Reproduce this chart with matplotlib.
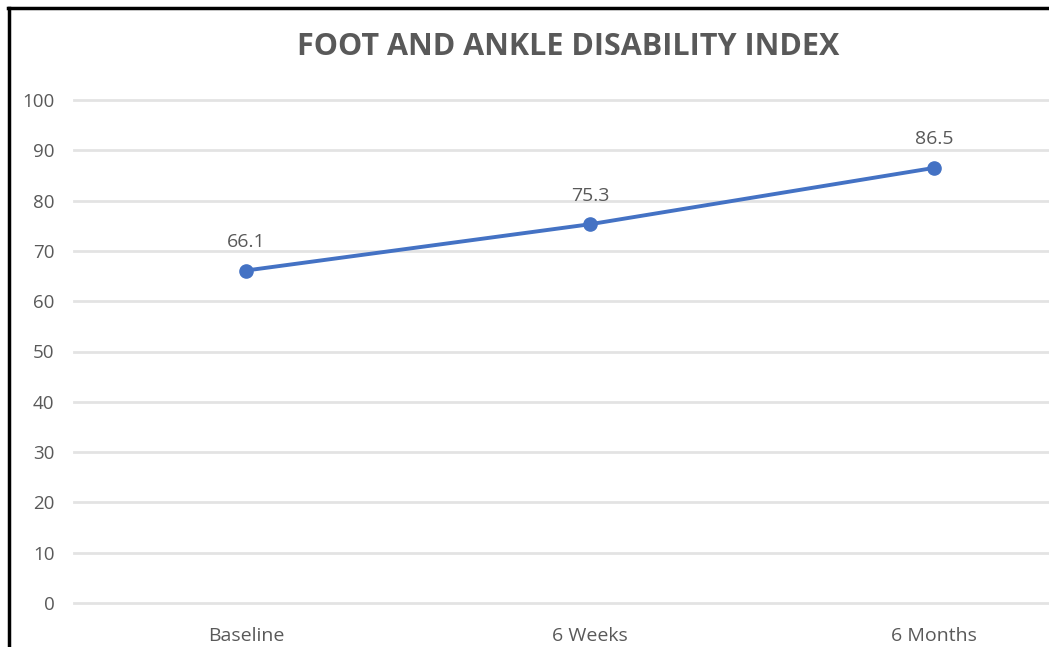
import matplotlib.pyplot as plt
from matplotlib.lines import Line2D

# data
categories = ['Baseline', '6 Weeks', '6 Months']
scores = [66.1, 75.3, 86.5]
yticks = [0, 10, 20, 30, 40, 50, 60, 70, 80, 90, 100]

plt.rcParams['font.family'] = ['Open Sans', 'DejaVu Sans']
text_grey = '#595959'
line_blue = '#4472C4'

W, H = 1049, 647
fig = plt.figure(figsize=(W / 100, H / 100), dpi=100)
fig.patch.set_facecolor('white')

# plot area extends past the right edge (chart is cropped in the reference)
ax = fig.add_axes([74 / W, 44 / H, 1032 / W, 503 / H])
x = list(range(len(categories)))
ax.plot(x, scores, color=line_blue, lw=2.8, marker='o', ms=9.5, zorder=3)
for xi, v in zip(x, scores):
    ax.annotate(f'{v}', (xi, v), xytext=(0, 14), textcoords='offset points',
                ha='center', va='bottom', fontsize=14, color=text_grey)

ax.set_xlim(-0.5, 2.5)
ax.set_ylim(0, 100)
ax.set_yticks(yticks)
ax.set_xticks(x)
ax.set_xticklabels(categories)
ax.grid(axis='y', color='#e3e3e3', lw=2)
for gl in ax.get_ygridlines():
    gl.set_clip_on(False)
ax.set_axisbelow(True)
for s in ax.spines.values():
    s.set_visible(False)
ax.tick_params(length=0, labelsize=13.5, colors=text_grey)
ax.tick_params(axis='x', labelsize=14, pad=17)
ax.tick_params(axis='y', pad=14)

fig.text(568 / W, 1 - 47 / H, 'FOOT AND ANKLE DISABILITY INDEX', ha='center',
         va='center', fontsize=22, fontweight='bold', color=text_grey)

# black frame on left and top
fig.add_artist(Line2D([9 / W, 9 / W], [0, 1 - 8 / H], color='black', lw=2.5,
                      transform=fig.transFigure))
fig.add_artist(Line2D([8 / W, 1], [1 - 8 / H, 1 - 8 / H], color='black', lw=2.5,
                      transform=fig.transFigure))

fig.savefig('out.png', dpi=100)
